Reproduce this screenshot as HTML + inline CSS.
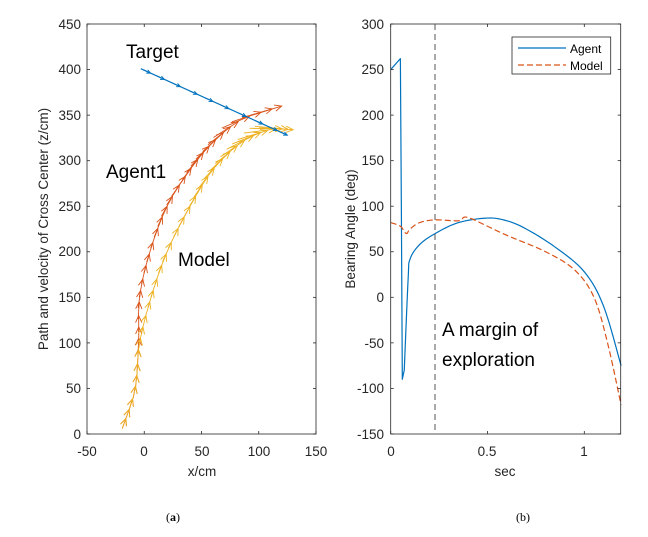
<!DOCTYPE html>
<html><head><meta charset="utf-8"><style>
body{margin:0;background:#fff;}
svg{display:block;font-family:"Liberation Sans",sans-serif;}
</style></head><body>
<svg id="s" width="648" height="537" viewBox="0 0 648 537" xmlns="http://www.w3.org/2000/svg">
<rect width="648" height="537" fill="#fff"/>
<g id="left"></g>
<g id="right"></g>
<g id="ticks" stroke="#262626" stroke-width="0.8"></g>
<rect x="87" y="24" width="229" height="410" fill="none" stroke="#262626" stroke-width="0.8"/>
<g font-size="13.5" fill="#262626" text-anchor="end">
<text x="81" y="439">0</text><text x="81" y="393">50</text><text x="81" y="348">100</text><text x="81" y="302">150</text><text x="81" y="256">200</text><text x="81" y="211">250</text><text x="81" y="165">300</text><text x="81" y="120">350</text><text x="81" y="74">400</text><text x="81" y="29">450</text>
</g>
<g font-size="13.5" fill="#262626" text-anchor="middle">
<text x="87" y="456">-50</text><text x="144" y="456">0</text><text x="202" y="456">50</text><text x="259" y="456">100</text><text x="316" y="456">150</text>
<text x="202" y="476">x/cm</text>
</g>
<text transform="translate(48,229) rotate(-90)" font-size="13.5" fill="#262626" text-anchor="middle">Path and velocity of Cross Center (z/cm)</text>
<g font-family="Liberation Sans,sans-serif" font-size="19" fill="#000">
<text x="126" y="58">Target</text><text x="106" y="178">Agent1</text><text x="178" y="266">Model</text>
<text x="442" y="336">A margin of</text><text x="442" y="366">exploration</text>
</g>
<rect x="390.7" y="24" width="230" height="410" fill="none" stroke="#262626" stroke-width="0.8"/>
<g font-size="13.5" fill="#262626" text-anchor="end">
<text x="384" y="439">-150</text><text x="384" y="393">-100</text><text x="384" y="348">-50</text><text x="384" y="302">0</text><text x="384" y="256">50</text><text x="384" y="211">100</text><text x="384" y="165">150</text><text x="384" y="120">200</text><text x="384" y="74">250</text><text x="384" y="29">300</text>
</g>
<g font-size="13.5" fill="#262626" text-anchor="middle">
<text x="391" y="456">0</text><text x="487" y="456">0.5</text><text x="584" y="456">1</text>
<text x="505" y="476">sec</text>
</g>
<text transform="translate(355,229) rotate(-90)" font-size="13.5" fill="#262626" text-anchor="middle">Bearing Angle (deg)</text>
<line x1="435" y1="24" x2="435" y2="434" stroke="#555" stroke-width="1" stroke-dasharray="6,4"/>
<rect x="512" y="37" width="98.7" height="37" fill="#fff" stroke="#262626" stroke-width="0.8"/>
<line x1="518" y1="48" x2="566" y2="48" stroke="#0072BD" stroke-width="1.2"/>
<line x1="518" y1="65" x2="566" y2="65" stroke="#D95319" stroke-width="1.2" stroke-dasharray="6,3"/>
<text x="570" y="53" font-size="12" fill="#000">Agent</text>
<text x="570" y="70" font-size="12" fill="#000">Model</text>
<g font-family="Liberation Serif,serif" font-size="12" fill="#000" text-anchor="middle">
<text x="173" y="521">(<tspan font-weight="bold">a</tspan>)</text><text x="523" y="521">(b)</text>
</g>
</svg>
<script>
const NS="http://www.w3.org/2000/svg";
function el(p,t,a){const e=document.createElementNS(NS,t);for(const k in a)e.setAttribute(k,a[k]);p.appendChild(e);return e;}
const X=x=>144.25+1.145*x, Y=y=>434-0.911*y;
const T=t=>390.7+193.6*t, B=b=>297.3-0.911*b;
function smooth(pts,n){
 const out=[];for(let i=0;i<pts.length-1;i++){const p0=pts[Math.max(i-1,0)],p1=pts[i],p2=pts[i+1],p3=pts[Math.min(i+2,pts.length-1)];
 for(let k=0;k<n;k++){const t=k/n,t2=t*t,t3=t2*t;
 out.push([0.5*(2*p1[0]+(-p0[0]+p2[0])*t+(2*p0[0]-5*p1[0]+4*p2[0]-p3[0])*t2+(-p0[0]+3*p1[0]-3*p2[0]+p3[0])*t3),
 0.5*(2*p1[1]+(-p0[1]+p2[1])*t+(2*p0[1]-5*p1[1]+4*p2[1]-p3[1])*t2+(-p0[1]+3*p1[1]-3*p2[1]+p3[1])*t3)]);}}
 out.push(pts[pts.length-1]);return out;}
const L=document.getElementById('left');
function quiver(pts,col,len,count,head,line){
 const s=smooth(pts.map(p=>[X(p[0]),Y(p[1])]),20);
 if(line)el(L,'polyline',{points:s.map(p=>p.join(',')).join(' '),fill:'none',stroke:col,'stroke-width':0.8});
 for(let i=1;i<=count;i++){const idx=Math.floor(i*(s.length-1)/count);const b=s[idx],a=s[Math.max(idx-3,0)];
 let dx=b[0]-a[0],dy=b[1]-a[1];const d=Math.hypot(dx,dy)||1;dx/=d;dy/=d;
 const l=len(i/count);const ex=b[0],ey=b[1],sx=ex-dx*l,sy=ey-dy*l;
 el(L,'line',{x1:sx,y1:sy,x2:ex,y2:ey,stroke:col,'stroke-width':0.9});
 const h=head,px=-dy,py=dx;
 el(L,'polyline',{points:`${ex-dx*h+px*h*0.45},${ey-dy*h+py*h*0.45} ${ex},${ey} ${ex-dx*h-px*h*0.45},${ey-dy*h-py*h*0.45}`,fill:'none',stroke:col,'stroke-width':0.9});}
}
quiver([[-18,10],[-8,50],[-5,100],[-4,150],[5,200],[20,250],[40,290],[60,320],[85,345],[120,360]],'#D95319',f=>10+f*22,34,7,false);
quiver([[-18,10],[-8,50],[-4,100],[6,150],[20,200],[40,250],[60,290],[85,320],[110,334],[130,334]],'#EDB120',f=>10+f*24,34,7,false);
el(L,'line',{x1:X(-3),y1:Y(401),x2:X(125),y2:Y(328),stroke:'#0072BD','stroke-width':1.2});
quiver([[-3,401],[60,365],[125,328]],'#0072BD',f=>8,10,4,false);
const R=document.getElementById('right');
const ag=[[0,250],[0.05,262],[0.055,100],[0.06,-90],[0.07,-80],[0.09,20],[0.1,42],[0.15,58],[0.23,70],[0.35,82],[0.5,87],[0.6,84],[0.7,75],[0.85,55],[1.0,28],[1.1,-10],[1.19,-75]];
const md=[[0,82],[0.05,78],[0.08,70],[0.1,75],[0.15,82],[0.23,85],[0.35,84],[0.38,88],[0.42,86],[0.5,78],[0.6,68],[0.8,50],[0.95,30],[1.05,0],[1.12,-50],[1.19,-118]];
const sa=[ag.slice(0,5),ag.slice(4)], sm=smooth(md.map(p=>[T(p[0]),B(p[1])]),8);
let apts=ag.slice(0,5).map(p=>[T(p[0]),B(p[1])]).concat(smooth(ag.slice(4).map(p=>[T(p[0]),B(p[1])]),8));
el(R,'polyline',{points:apts.map(p=>p.join(',')).join(' '),fill:'none',stroke:'#0072BD','stroke-width':1.2,'stroke-linejoin':'round'});
el(R,'polyline',{points:sm.map(p=>p.join(',')).join(' '),fill:'none',stroke:'#D95319','stroke-width':1.2,'stroke-dasharray':'6,3'});
const TK=document.getElementById('ticks');
function tk(x1,y1,x2,y2){el(TK,'line',{x1,y1,x2,y2});}
for(let v=0;v<=450;v+=50){const y=Y(v);tk(87,y,90,y);tk(316,y,313,y);}
for(let v=-50;v<=150;v+=50){const x=X(v);tk(x,434,x,431);tk(x,24,x,27);}
for(let v=-150;v<=300;v+=50){const y=B(v);tk(390.7,y,393.7,y);tk(620.7,y,617.7,y);}
for(const v of [0,0.5,1]){const x=T(v);tk(x,434,x,431);tk(x,24,x,27);}
</script>
</body></html>
